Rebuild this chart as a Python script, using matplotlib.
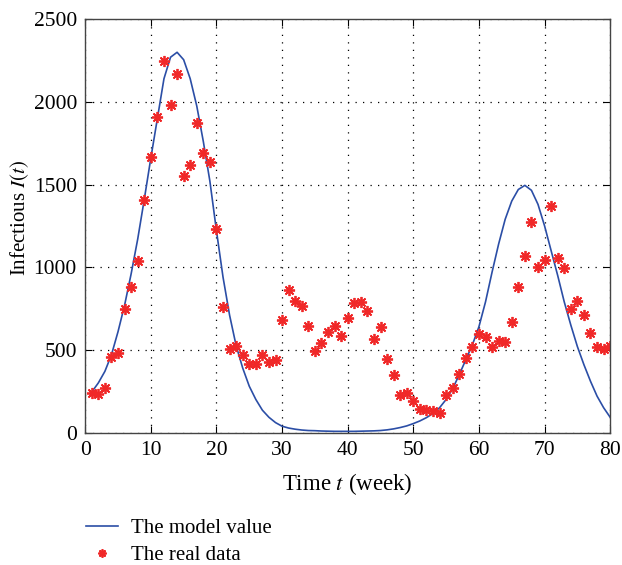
import numpy as np
import matplotlib
matplotlib.use('Agg')
import matplotlib.pyplot as plt

plt.rcParams['font.family'] = ['Liberation Serif', 'DejaVu Serif']
plt.rcParams['mathtext.fontset'] = 'stix'

# weeks 1..80
weeks = np.arange(1, 81)

# model curve
model = [245, 300, 370, 470, 610, 770, 960, 1170, 1410, 1660,
         1900, 2140, 2270, 2300, 2255, 2140, 1975, 1760, 1520, 1220,
         940, 710, 525, 390, 280, 200, 135, 92, 60, 38,
         27, 20, 15, 12, 11, 9, 8, 7, 7, 7,
         7, 8, 9, 10, 12, 16, 22, 30, 40, 54,
         70, 90, 115, 150, 200, 265, 350, 440, 530, 640,
         790, 970, 1140, 1290, 1400, 1470, 1495, 1465, 1380, 1250,
         1100, 950, 790, 650, 520, 410, 310, 220, 150, 92]

# observed data
real = [237, 230, 268, 457, 480, 747, 880, 1037, 1409, 1666,
        1910, 2245, 1979, 2169, 1550, 1617, 1874, 1688, 1635, 1231,
        762, 504, 524, 470, 415, 413, 466, 425, 439, 678,
        864, 793, 767, 645, 494, 544, 605, 645, 581, 692,
        783, 787, 736, 565, 638, 443, 347, 227, 238, 191,
        142, 137, 130, 116, 224, 268, 352, 453, 520, 597,
        577, 520, 555, 547, 670, 878, 1070, 1272, 1001, 1041,
        1369, 1053, 998, 750, 797, 712, 601, 520, 504, 525]

fig = plt.figure(figsize=(6.22, 5.65), dpi=100)
ax = fig.add_axes([0.137, 0.2345, 0.844, 0.7315])

ax.plot(weeks, model, color='#2b4ea6', lw=1.2, label='The model value')
ax.plot(weeks, real, ls='none', marker=(8, 2, 0), ms=8, mew=1.3,
        color='#f02828', label='The real data')

ax.set_xlim(0, 80)
ax.set_ylim(0, 2500)
ax.set_xticks(range(0, 81, 10))
ax.set_yticks(range(0, 2501, 500))
ax.grid(True, ls=(0, (1, 5)), color='black', lw=0.9)
ax.tick_params(direction='in', top=True, right=True, labelsize=15.5,
               length=5, pad=6)
for s in ax.spines.values():
    s.set_color('#444444')
    s.set_linewidth(1.0)

ax.set_xlabel('Time $t$ (week)', fontsize=16.5, labelpad=8)
ax.set_ylabel('Infectious $I(t)$', fontsize=15)
ax.yaxis.set_label_coords(-0.104, 0.52)

fig.legend(loc='upper left', bbox_to_anchor=(0.108, 0.116), frameon=False,
           fontsize=15, handlelength=1.55, handletextpad=0.6,
           labelspacing=0.38, markerscale=0.75)

fig.savefig('out.png', dpi=100)
